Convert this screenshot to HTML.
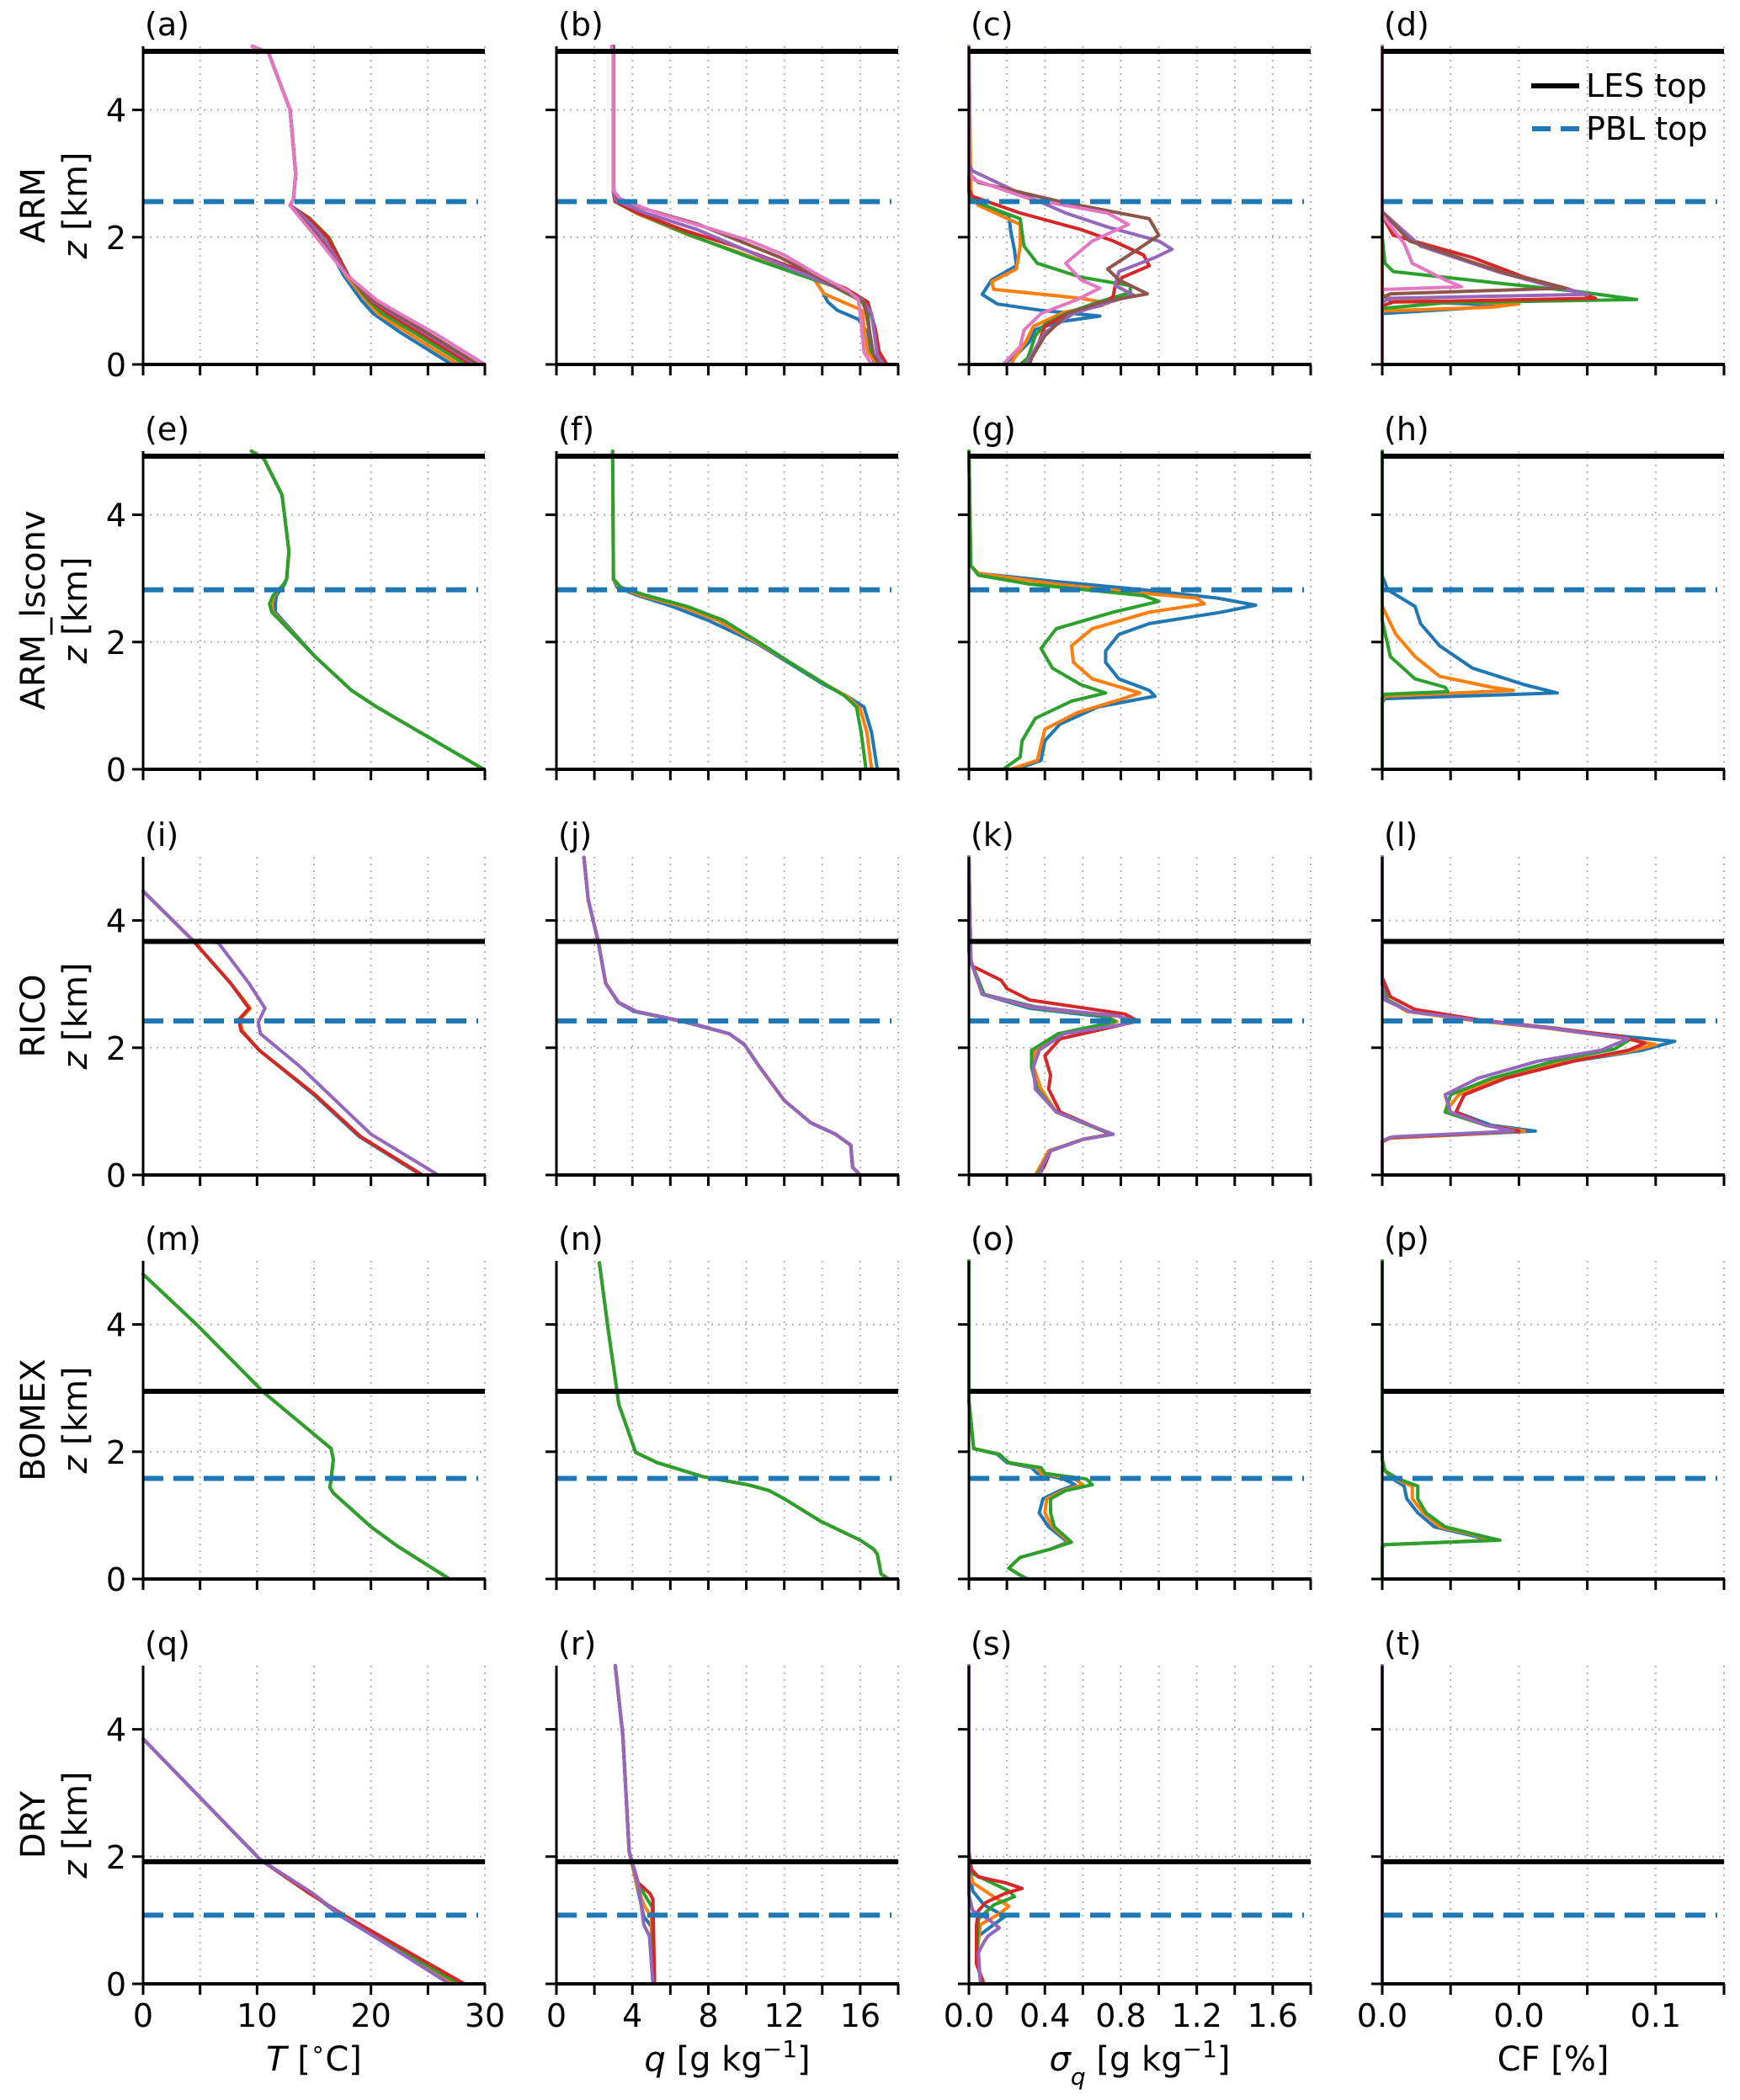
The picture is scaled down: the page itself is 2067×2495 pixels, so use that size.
<!DOCTYPE html>
<html>
<head>
<meta charset="utf-8">
<style>
  html,body{margin:0;padding:0;background:#fff;}
  svg{display:block;font-family:"DejaVu Sans","Liberation Sans",sans-serif;}
</style>
</head>
<body>
<svg id="chart" width="2067" height="2495" viewBox="0 0 2067 2495" xmlns="http://www.w3.org/2000/svg"></svg>
<script>
// ---------- DATA (value, z[km]) ----------
const rowNames = ['ARM','ARM_lsconv','RICO','BOMEX','DRY'];
const lesTop = [4.92, 4.92, 3.67, 2.95, 1.92];
const pblTop = [2.56, 2.82, 2.42, 1.58, 1.08];
const panelLetters = ['a','b','c','d','e','f','g','h','i','j','k','l','m','n','o','p','q','r','s','t'];
const xMax = [30, 18, 1.8, 0.125];
const xTickStep = [5, 2, 0.2, 0.025];
const xTickLabelVals = [[0,10,20,30],[0,4,8,12,16],[0,0.4,0.8,1.2,1.6],[0,0.05,0.1]];
const xTickLabelText = [['0','10','20','30'],['0','4','8','12','16'],['0.0','0.4','0.8','1.2','1.6'],['0.0','0.0','0.1']];
const yTicks = [0,2,4];

// (a) T ARM
const a_blue   = [[27.1,0],[22.6,0.5],[20.2,0.8],[19.2,1.0],[17.6,1.4],[15.8,2.0],[14.3,2.3],[12.9,2.5],[13.2,2.6],[13.4,3.0],[12.9,4.0],[11.0,4.9],[9.6,5.0]];
const a_orange = [[27.7,0],[23.2,0.5],[20.6,0.8],[19.6,1.0],[17.8,1.4],[16.0,2.0],[14.4,2.3],[12.9,2.5],[13.2,2.6],[13.4,3.0],[12.9,4.0],[11.0,4.9],[9.6,5.0]];
const a_green  = [[28.3,0],[23.8,0.5],[21.0,0.8],[19.8,1.0],[18.0,1.4],[16.3,2.0],[14.6,2.3],[12.9,2.5],[13.2,2.6],[13.4,3.0],[12.9,4.0],[11.0,4.9],[9.6,5.0]];
const a_red    = [[28.8,0],[24.3,0.5],[21.5,0.8],[20.0,1.0],[18.0,1.4],[16.2,2.0],[14.5,2.3],[12.9,2.5],[13.2,2.6],[13.4,3.0],[12.9,4.0],[11.0,4.9],[9.6,5.0]];
const a_purple = [[29.2,0],[24.7,0.5],[21.9,0.8],[20.2,1.0],[17.9,1.4],[15.8,2.0],[14.2,2.3],[12.9,2.5],[13.2,2.6],[13.4,3.0],[12.9,4.0],[11.0,4.9],[9.6,5.0]];
const a_brown  = [[29.4,0],[24.9,0.5],[22.1,0.8],[20.3,1.0],[17.9,1.4],[15.4,2.0],[13.9,2.3],[12.9,2.5],[13.2,2.6],[13.4,3.0],[12.9,4.0],[11.0,4.9],[9.6,5.0]];
const a_pink   = [[30.0,0],[25.5,0.5],[22.5,0.8],[20.6,1.0],[17.9,1.4],[15.2,2.0],[13.8,2.3],[12.9,2.5],[13.2,2.6],[13.4,3.0],[12.9,4.0],[11.0,4.9],[9.6,5.0]];
// (b) q ARM
const b_blue   = [[16.8,0],[16.5,0.19],[16.3,0.54],[15.9,0.71],[14.8,0.85],[14.3,0.98],[14.0,1.15],[13.6,1.33],[12.5,1.46],[10.0,1.72],[7.0,2.03],[4.2,2.38],[3.1,2.56],[3.0,2.7],[3.0,5.0]];
const b_orange = [[16.9,0],[16.4,0.19],[16.2,0.6],[16.1,0.85],[15.1,0.98],[14.1,1.11],[13.6,1.33],[12.5,1.46],[10.0,1.72],[7.0,2.03],[4.2,2.38],[3.1,2.56],[3.0,2.7],[3.0,5.0]];
const b_green  = [[17.1,0],[16.6,0.19],[16.4,0.8],[16.1,0.98],[15.6,1.07],[14.5,1.24],[12.7,1.42],[10.2,1.68],[7.07,2.03],[4.26,2.38],[3.08,2.56],[3.0,2.7],[3.0,5.0]];
const b_red    = [[17.4,0],[17.0,0.2],[16.8,0.55],[16.4,0.98],[15.2,1.2],[13.0,1.46],[9.4,1.86],[6.8,2.1],[4.3,2.38],[3.1,2.56],[3.0,2.7],[3.0,5.0]];
const b_purple = [[17.2,0],[16.9,0.15],[16.6,0.8],[16.1,1.02],[14.5,1.24],[10.9,1.68],[7.4,2.12],[4.5,2.4],[3.15,2.58],[3.0,2.7],[3.0,5.0]];
const b_brown  = [[17.0,0],[16.7,0.15],[16.5,0.5],[16.2,0.98],[14.6,1.24],[11.8,1.68],[7.4,2.21],[4.6,2.45],[3.2,2.62],[3.0,2.75],[3.0,5.0]];
const b_pink   = [[16.6,0],[16.2,0.19],[16.0,0.8],[15.9,1.02],[15.4,1.15],[13.7,1.42],[12.0,1.72],[10.2,1.94],[8.25,2.12],[5.3,2.38],[3.37,2.6],[3.0,2.73],[3.0,4.9],[2.9,5.0]];
// (c) sigma_q ARM
const c_blue   = [[0.18,0],[0.25,0.15],[0.32,0.36],[0.35,0.55],[0.48,0.67],[0.69,0.76],[0.38,0.85],[0.15,0.95],[0.07,1.1],[0.12,1.33],[0.25,1.55],[0.24,1.8],[0.22,2.1],[0.21,2.35],[0.06,2.5],[0.01,2.6],[0,5]];
const c_orange = [[0.22,0],[0.24,0.1],[0.3,0.36],[0.34,0.6],[0.5,0.82],[0.73,0.96],[0.59,1.04],[0.13,1.18],[0.12,1.3],[0.25,1.5],[0.27,1.86],[0.27,2.2],[0.05,2.5],[0.01,2.65],[0,5]];
const c_green  = [[0.27,0],[0.31,0.1],[0.35,0.45],[0.4,0.63],[0.51,0.8],[0.68,0.98],[0.85,1.13],[0.85,1.24],[0.59,1.37],[0.36,1.59],[0.29,1.86],[0.27,2.29],[0.03,2.56],[0,2.7],[0,5]];
const c_red    = [[0.3,0],[0.33,0.1],[0.37,0.36],[0.4,0.6],[0.52,0.8],[0.7,0.93],[0.76,1.07],[0.77,1.24],[0.81,1.37],[0.95,1.55],[0.92,1.72],[0.76,1.94],[0.59,2.12],[0.27,2.38],[0.02,2.64],[0,2.75],[0,5]];
const c_purple = [[0.3,0],[0.34,0.2],[0.4,0.5],[0.55,0.8],[0.74,0.98],[0.87,1.09],[0.77,1.24],[0.79,1.46],[0.98,1.68],[1.07,1.81],[1.0,1.94],[0.73,2.16],[0.51,2.38],[0.24,2.73],[0.02,3.04],[0,3.15],[0,5]];
const c_brown  = [[0.32,0],[0.33,0.1],[0.4,0.45],[0.52,0.8],[0.7,0.98],[0.94,1.11],[0.79,1.33],[0.73,1.5],[0.87,1.77],[1.0,2.03],[0.95,2.29],[0.48,2.56],[0.05,2.86],[0,3.0],[0,5]];
const c_pink   = [[0.18,0],[0.27,0.28],[0.29,0.54],[0.38,0.8],[0.57,1.02],[0.69,1.2],[0.59,1.33],[0.51,1.59],[0.65,1.94],[0.84,2.2],[0.73,2.38],[0.32,2.6],[0.03,2.9],[0,3.0],[0,5]];
// (d) CF ARM
const d_blue   = [[0,0],[0,0.8],[0.03,0.88],[0.045,0.93],[0.003,1.0],[0,1.1],[0,5]];
const d_orange = [[0,0],[0,0.84],[0.04,0.9],[0.05,0.95],[0.004,1.02],[0,1.1],[0,5]];
const d_green  = [[0,0],[0,0.88],[0.023,0.97],[0.093,1.02],[0.071,1.15],[0.042,1.28],[0.004,1.46],[0.001,1.59],[0,2.0],[0,5]];
const d_red    = [[0,0],[0,0.92],[0.004,0.98],[0.078,1.04],[0.067,1.2],[0.052,1.37],[0.033,1.68],[0.004,2.03],[0,2.34],[0,5]];
const d_purple = [[0,0],[0,0.98],[0.003,1.04],[0.075,1.1],[0.061,1.24],[0.042,1.46],[0.014,1.86],[0,2.4],[0,5]];
const d_brown  = [[0,0],[0,1.05],[0.003,1.11],[0.067,1.2],[0.046,1.42],[0.01,1.94],[0,2.4],[0,5]];
const d_pink   = [[0,0],[0,1.15],[0.001,1.18],[0.029,1.22],[0.023,1.33],[0.011,1.59],[0.008,1.9],[0,2.35],[0,5]];
// (e) T ARM_lsconv
const e_blue   = [[29.9,0],[20.5,0.98],[18.3,1.24],[15.1,1.77],[11.6,2.47],[11.6,2.6],[11.7,2.73],[12.4,2.9],[12.6,2.99],[12.8,3.43],[12.2,4.31],[10.6,4.88],[9.5,5.0]];
const e_orange = [[29.9,0],[20.5,0.98],[18.3,1.24],[15.1,1.77],[11.4,2.47],[11.3,2.6],[11.5,2.73],[12.3,2.9],[12.6,2.99],[12.8,3.43],[12.2,4.31],[10.6,4.88],[9.5,5.0]];
const e_green  = [[29.9,0],[20.5,0.98],[18.3,1.24],[15.1,1.77],[11.3,2.47],[11.1,2.6],[11.4,2.73],[12.3,2.9],[12.6,2.99],[12.8,3.43],[12.2,4.31],[10.6,4.88],[9.5,5.0]];
// (f) q ARM_lsconv
const f_blue   = [[16.9,0],[16.6,0.58],[16.2,0.98],[15.3,1.15],[14.1,1.33],[12.2,1.68],[10.5,1.99],[8.0,2.34],[6.1,2.56],[4.3,2.73],[3.2,2.86],[3.0,2.99],[2.96,5.0]];
const f_orange = [[16.6,0],[16.35,0.58],[16.0,0.95],[15.3,1.15],[14.2,1.33],[12.3,1.68],[10.6,1.99],[8.5,2.34],[6.6,2.56],[4.5,2.73],[3.3,2.86],[3.0,2.99],[2.96,5.0]];
const f_green  = [[16.3,0],[16.05,0.58],[15.8,0.98],[15.2,1.15],[14.2,1.33],[12.3,1.68],[10.7,1.99],[8.8,2.34],[6.9,2.56],[4.76,2.73],[3.4,2.86],[3.0,2.99],[2.96,5.0]];
// (g) sigma_q ARM_lsconv
const g_blue   = [[0.25,0],[0.38,0.14],[0.4,0.45],[0.48,0.71],[0.68,0.98],[0.98,1.15],[0.95,1.24],[0.79,1.42],[0.72,1.68],[0.72,1.86],[0.79,2.12],[0.95,2.29],[1.33,2.47],[1.51,2.58],[1.31,2.69],[0.92,2.82],[0.46,2.95],[0.05,3.08],[0.01,3.2],[0,5]];
const g_orange = [[0.22,0],[0.36,0.14],[0.4,0.63],[0.57,0.89],[0.81,1.11],[0.9,1.2],[0.65,1.42],[0.55,1.68],[0.54,1.94],[0.65,2.21],[0.95,2.47],[1.24,2.6],[1.2,2.69],[0.87,2.78],[0.46,2.91],[0.05,3.08],[0.01,3.2],[0,5]];
const g_green  = [[0.18,0],[0.27,0.19],[0.28,0.45],[0.35,0.8],[0.54,1.07],[0.72,1.2],[0.59,1.33],[0.44,1.59],[0.38,1.9],[0.46,2.21],[0.76,2.47],[1.0,2.64],[0.92,2.73],[0.32,2.91],[0.05,3.05],[0.01,3.2],[0,5]];
// (h) CF ARM_lsconv
const h_blue   = [[0,0],[0,1.05],[0.001,1.11],[0.064,1.2],[0.052,1.33],[0.033,1.59],[0.021,1.94],[0.014,2.29],[0.012,2.56],[0.002,2.82],[0,3.04],[0,5]];
const h_orange = [[0,0],[0,1.08],[0.001,1.15],[0.048,1.24],[0.04,1.29],[0.021,1.46],[0.012,1.77],[0.005,2.12],[0,2.56],[0,5]];
const h_green  = [[0,0],[0,1.12],[0.001,1.18],[0.024,1.22],[0.023,1.29],[0.012,1.42],[0.003,1.77],[0,2.34],[0,5]];
// (i) T RICO
const i_blue   = [[24.4,0],[19.0,0.6],[15.0,1.26],[10.2,1.96],[8.6,2.27],[8.5,2.44],[9.3,2.62],[7.7,3.01],[4.35,3.69],[0,4.46]];
const i_orange = [[24.5,0],[19.1,0.6],[15.1,1.26],[10.2,1.96],[8.7,2.27],[8.5,2.44],[9.4,2.62],[7.7,3.01],[4.35,3.69],[0,4.46]];
const i_green  = [[24.5,0],[19.1,0.6],[15.1,1.26],[10.2,1.96],[8.6,2.27],[8.4,2.44],[9.3,2.62],[7.7,3.01],[4.35,3.69],[0,4.46]];
const i_red    = [[24.5,0],[19.1,0.6],[15.1,1.26],[10.2,1.96],[8.6,2.27],[8.4,2.44],[9.3,2.62],[7.7,3.01],[4.35,3.69],[0,4.46]];
const i_purple = [[25.9,0],[20.0,0.64],[13.8,1.7],[10.3,2.22],[10.1,2.4],[10.7,2.62],[9.3,3.01],[6.6,3.65],[4.35,3.69],[0,4.46]];
// (j) q RICO
const j_blue   = [[16.0,0],[15.6,0.12],[15.5,0.47],[14.7,0.64],[13.4,0.82],[12.0,1.17],[10.7,1.7],[9.9,2.05],[9.1,2.22],[6.8,2.4],[4.1,2.57],[3.25,2.71],[2.6,3.01],[2.2,3.67],[1.67,4.33],[1.45,4.99]];
const j_orange = [[16.0,0],[15.6,0.12],[15.5,0.47],[14.7,0.64],[13.4,0.82],[12.0,1.17],[10.7,1.7],[9.9,2.05],[9.1,2.22],[6.9,2.4],[4.2,2.57],[3.28,2.71],[2.6,3.01],[2.2,3.67],[1.67,4.33],[1.45,4.99]];
const j_green  = [[16.0,0],[15.6,0.12],[15.5,0.47],[14.7,0.64],[13.4,0.82],[12.0,1.17],[10.7,1.7],[9.9,2.05],[9.1,2.22],[6.9,2.4],[4.2,2.57],[3.28,2.71],[2.6,3.01],[2.2,3.67],[1.67,4.33],[1.45,4.99]];
const j_red    = [[16.0,0],[15.6,0.12],[15.5,0.47],[14.7,0.64],[13.4,0.82],[12.0,1.17],[10.7,1.7],[9.9,2.05],[9.1,2.22],[6.9,2.4],[4.2,2.57],[3.28,2.71],[2.6,3.01],[2.2,3.67],[1.67,4.33],[1.45,4.99]];
const j_purple = [[16.0,0],[15.6,0.12],[15.5,0.47],[14.7,0.64],[13.4,0.82],[12.0,1.17],[10.7,1.7],[9.9,2.05],[9.1,2.22],[6.9,2.4],[4.2,2.57],[3.28,2.71],[2.6,3.01],[2.2,3.67],[1.67,4.33],[1.45,4.99]];
// (k) sigma_q RICO
const k_blue   = [[0.36,0],[0.39,0.16],[0.43,0.38],[0.6,0.56],[0.75,0.64],[0.46,0.99],[0.36,1.35],[0.33,1.7],[0.35,1.96],[0.48,2.22],[0.76,2.4],[0.7,2.49],[0.32,2.62],[0.07,2.84],[0.01,3.36],[0,5]];
const k_orange = [[0.35,0],[0.38,0.16],[0.42,0.38],[0.6,0.56],[0.75,0.64],[0.46,0.99],[0.38,1.35],[0.34,1.7],[0.35,1.96],[0.48,2.22],[0.78,2.41],[0.72,2.5],[0.33,2.64],[0.07,2.84],[0.01,3.36],[0,5]];
const k_green  = [[0.36,0],[0.39,0.16],[0.43,0.38],[0.6,0.56],[0.75,0.64],[0.46,0.99],[0.36,1.35],[0.33,1.7],[0.33,1.96],[0.47,2.22],[0.77,2.41],[0.72,2.5],[0.34,2.65],[0.08,2.84],[0.01,3.36],[0,5]];
const k_red    = [[0.37,0],[0.4,0.16],[0.43,0.38],[0.6,0.56],[0.75,0.64],[0.48,0.99],[0.42,1.35],[0.43,1.57],[0.4,1.87],[0.48,2.14],[0.73,2.31],[0.89,2.42],[0.82,2.53],[0.32,2.75],[0.2,2.93],[0.17,3.06],[0.02,3.28],[0,3.5],[0,5]];
const k_purple = [[0.37,0],[0.39,0.16],[0.43,0.38],[0.6,0.56],[0.76,0.64],[0.46,0.99],[0.35,1.35],[0.34,1.7],[0.37,1.96],[0.5,2.22],[0.8,2.36],[0.88,2.42],[0.78,2.5],[0.34,2.64],[0.07,2.84],[0.01,3.36],[0,5]];
// (l) CF RICO
const l_blue   = [[0,0],[0,0.52],[0.003,0.58],[0.056,0.69],[0.04,0.78],[0.027,0.99],[0.03,1.26],[0.045,1.52],[0.07,1.79],[0.095,1.96],[0.107,2.1],[0.09,2.17],[0.061,2.31],[0.033,2.44],[0.01,2.57],[0.002,2.75],[0,3.0],[0,5]];
const l_orange = [[0,0],[0,0.52],[0.003,0.58],[0.052,0.69],[0.038,0.78],[0.023,0.99],[0.028,1.26],[0.043,1.52],[0.068,1.79],[0.09,1.94],[0.1,2.05],[0.088,2.15],[0.06,2.31],[0.031,2.44],[0.009,2.57],[0.002,2.75],[0,3.0],[0,5]];
const l_green  = [[0,0],[0,0.53],[0.003,0.59],[0.05,0.69],[0.038,0.78],[0.023,0.99],[0.025,1.26],[0.04,1.52],[0.063,1.79],[0.085,1.98],[0.091,2.14],[0.063,2.31],[0.033,2.44],[0.01,2.57],[0.002,2.75],[0,3.0],[0,5]];
const l_red    = [[0,0],[0,0.53],[0.003,0.59],[0.05,0.69],[0.038,0.78],[0.027,0.99],[0.03,1.26],[0.045,1.52],[0.07,1.79],[0.09,1.96],[0.096,2.07],[0.088,2.17],[0.062,2.31],[0.035,2.44],[0.012,2.6],[0.003,2.8],[0,3.1],[0,5]];
const l_purple = [[0,0],[0,0.54],[0.004,0.6],[0.048,0.69],[0.038,0.78],[0.025,0.99],[0.023,1.26],[0.035,1.52],[0.057,1.79],[0.08,1.96],[0.09,2.14],[0.061,2.31],[0.033,2.44],[0.01,2.57],[0.001,2.75],[0,3.0],[0,5]];
// (m) T BOMEX
const m_blue   = [[26.9,0],[22.3,0.52],[20.0,0.82],[16.7,1.35],[16.4,1.44],[16.5,1.57],[16.7,1.88],[16.5,2.05],[10.6,2.93],[4.8,3.98],[0,4.79]];
const m_orange = [[26.9,0],[22.3,0.52],[20.0,0.82],[16.7,1.35],[16.4,1.44],[16.5,1.57],[16.7,1.88],[16.5,2.05],[10.6,2.93],[4.8,3.98],[0,4.79]];
const m_green  = [[26.9,0],[22.3,0.52],[20.0,0.82],[16.7,1.35],[16.4,1.44],[16.5,1.57],[16.7,1.88],[16.5,2.05],[10.6,2.93],[4.8,3.98],[0,4.79]];
// (n) q BOMEX
const n_blue   = [[17.5,0],[17.1,0.08],[16.9,0.39],[16.7,0.47],[16.0,0.61],[13.9,0.91],[12.0,1.26],[11.2,1.39],[10.1,1.48],[7.7,1.61],[5.3,1.83],[4.17,1.99],[3.28,2.75],[3.2,2.93],[2.74,3.89],[2.26,4.97]];
const n_orange = [[17.5,0],[17.1,0.08],[16.9,0.39],[16.7,0.47],[16.0,0.61],[13.9,0.91],[12.0,1.26],[11.2,1.39],[10.1,1.48],[7.7,1.61],[5.3,1.83],[4.17,1.99],[3.28,2.75],[3.2,2.93],[2.74,3.89],[2.26,4.97]];
const n_green  = [[17.5,0],[17.1,0.08],[16.9,0.39],[16.7,0.47],[16.0,0.61],[13.9,0.91],[12.0,1.26],[11.2,1.39],[10.1,1.48],[7.7,1.61],[5.3,1.83],[4.17,1.99],[3.28,2.75],[3.2,2.93],[2.74,3.89],[2.26,4.97]];
// (o) sigma_q BOMEX
const o_blue   = [[0.31,0],[0.27,0.06],[0.21,0.17],[0.27,0.34],[0.43,0.47],[0.52,0.58],[0.42,0.82],[0.37,1.04],[0.39,1.26],[0.48,1.39],[0.56,1.48],[0.5,1.57],[0.36,1.66],[0.33,1.75],[0.2,1.83],[0.15,1.96],[0.025,2.05],[0.01,2.5],[0,2.8],[0,5]];
const o_orange = [[0.31,0],[0.27,0.06],[0.21,0.17],[0.27,0.34],[0.43,0.47],[0.53,0.58],[0.44,0.82],[0.4,1.04],[0.41,1.26],[0.5,1.39],[0.6,1.48],[0.56,1.57],[0.38,1.66],[0.36,1.75],[0.21,1.83],[0.16,1.96],[0.025,2.05],[0.01,2.5],[0,2.8],[0,5]];
const o_green  = [[0.31,0],[0.27,0.06],[0.21,0.17],[0.27,0.34],[0.43,0.47],[0.54,0.58],[0.45,0.82],[0.43,1.04],[0.43,1.26],[0.51,1.39],[0.65,1.48],[0.62,1.57],[0.4,1.66],[0.38,1.75],[0.21,1.83],[0.16,1.96],[0.025,2.05],[0.01,2.5],[0,2.8],[0,5]];
// (p) CF BOMEX
const p_blue   = [[0,0],[0,0.5],[0.001,0.54],[0.04,0.61],[0.032,0.69],[0.019,0.82],[0.013,1.04],[0.009,1.26],[0.008,1.46],[0.004,1.57],[0.001,1.7],[0,1.88],[0,5]];
const p_orange = [[0,0],[0,0.5],[0.001,0.54],[0.041,0.61],[0.034,0.69],[0.021,0.82],[0.015,1.04],[0.011,1.26],[0.011,1.46],[0.005,1.57],[0.001,1.7],[0,1.88],[0,5]];
const p_green  = [[0,0],[0,0.5],[0.001,0.54],[0.043,0.61],[0.035,0.69],[0.023,0.82],[0.016,1.04],[0.013,1.26],[0.013,1.46],[0.006,1.57],[0.001,1.7],[0,1.88],[0,5]];
// (q) T DRY
const q_blue   = [[27.1,0],[17.4,1.06],[14.8,1.42],[10.3,1.95],[0,3.85]];
const q_orange = [[27.4,0],[17.5,1.06],[14.9,1.42],[10.3,1.95],[0,3.85]];
const q_green  = [[27.7,0],[17.6,1.06],[14.8,1.42],[10.3,1.95],[0,3.85]];
const q_red    = [[28.2,0],[17.8,1.06],[14.6,1.42],[10.3,1.95],[0,3.85]];
const q_purple = [[26.9,0],[17.5,1.06],[14.9,1.42],[10.3,1.95],[0,3.85]];
// (r) q DRY
const r_blue   = [[5.1,0],[5.0,0.9],[4.6,1.06],[4.35,1.4],[3.83,2.08],[3.5,3.9],[3.1,5.0]];
const r_orange = [[5.1,0],[5.0,1.05],[4.6,1.24],[4.3,1.5],[3.83,2.08],[3.5,3.9],[3.1,5.0]];
const r_green  = [[5.12,0],[5.05,1.2],[4.6,1.42],[4.3,1.59],[3.83,2.08],[3.5,3.9],[3.1,5.0]];
const r_red    = [[5.17,0],[5.08,1.33],[4.92,1.42],[4.3,1.59],[3.83,2.08],[3.5,3.9],[3.1,5.0]];
const r_purple = [[5.08,0],[4.9,0.75],[4.6,0.93],[4.3,1.59],[3.83,2.08],[3.5,3.9],[3.1,5.0]];
// (s) sigma_q DRY
const s_blue   = [[0.07,0],[0.04,0.4],[0.05,0.75],[0.13,0.93],[0.19,1.06],[0.08,1.24],[0.02,1.46],[0,1.8],[0,5]];
const s_orange = [[0.07,0],[0.04,0.4],[0.06,0.93],[0.16,1.1],[0.21,1.22],[0.13,1.37],[0.02,1.59],[0,1.9],[0,5]];
const s_green  = [[0.07,0],[0.04,0.4],[0.05,1.02],[0.13,1.24],[0.24,1.37],[0.21,1.46],[0.02,1.73],[0,2.0],[0,5]];
const s_red    = [[0.08,0],[0.04,0.31],[0.04,0.93],[0.05,1.15],[0.09,1.28],[0.19,1.42],[0.28,1.5],[0.19,1.59],[0.05,1.68],[0.01,1.81],[0,2.1],[0,5]];
const s_purple = [[0.07,0],[0.06,0.04],[0.05,0.49],[0.08,0.66],[0.1,0.75],[0.16,0.88],[0.1,1.02],[0.02,1.15],[0,1.4],[0,5]];
// (t) CF DRY
const t_blue   = [[0,0],[0,5]];
const t_orange = [[0,0],[0,5]];
const t_green  = [[0,0],[0,5]];
const t_red    = [[0,0],[0,5]];
const t_purple = [[0,0],[0,5]];

const colorMap = {blue:'#1f77b4',orange:'#ff7f0e',green:'#2ca02c',red:'#d62728',purple:'#9467bd',brown:'#8c564b',pink:'#e377c2'};
const panelSeries = [
  [['blue',a_blue],['orange',a_orange],['green',a_green],['red',a_red],['purple',a_purple],['brown',a_brown],['pink',a_pink]],
  [['blue',b_blue],['orange',b_orange],['green',b_green],['red',b_red],['purple',b_purple],['brown',b_brown],['pink',b_pink]],
  [['blue',c_blue],['orange',c_orange],['green',c_green],['red',c_red],['purple',c_purple],['brown',c_brown],['pink',c_pink]],
  [['blue',d_blue],['orange',d_orange],['green',d_green],['red',d_red],['purple',d_purple],['brown',d_brown],['pink',d_pink]],
  [['blue',e_blue],['orange',e_orange],['green',e_green]],
  [['blue',f_blue],['orange',f_orange],['green',f_green]],
  [['blue',g_blue],['orange',g_orange],['green',g_green]],
  [['blue',h_blue],['orange',h_orange],['green',h_green]],
  [['blue',i_blue],['orange',i_orange],['green',i_green],['red',i_red],['purple',i_purple]],
  [['blue',j_blue],['orange',j_orange],['green',j_green],['red',j_red],['purple',j_purple]],
  [['blue',k_blue],['orange',k_orange],['green',k_green],['red',k_red],['purple',k_purple]],
  [['blue',l_blue],['orange',l_orange],['green',l_green],['red',l_red],['purple',l_purple]],
  [['blue',m_blue],['orange',m_orange],['green',m_green]],
  [['blue',n_blue],['orange',n_orange],['green',n_green]],
  [['blue',o_blue],['orange',o_orange],['green',o_green]],
  [['blue',p_blue],['orange',p_orange],['green',p_green]],
  [['blue',q_blue],['orange',q_orange],['green',q_green],['red',q_red],['purple',q_purple]],
  [['blue',r_blue],['orange',r_orange],['green',r_green],['red',r_red],['purple',r_purple]],
  [['blue',s_blue],['orange',s_orange],['green',s_green],['red',s_red],['purple',s_purple]],
  [['blue',t_blue],['orange',t_orange],['green',t_green],['red',t_red],['purple',t_purple]]
];

// ---------- LAYOUT ----------
const NS = 'http://www.w3.org/2000/svg';
const svg = document.getElementById('chart');
const colLeft = [170, 661, 1151, 1642];
const panelW = 406;
const rowBottom = [433, 914, 1396, 1876, 2357];
const kmPx = 75.6;
const FS = 38;

function el(tag, attrs, parent){
  const e = document.createElementNS(NS, tag);
  for (const k in attrs) e.setAttribute(k, attrs[k]);
  (parent||svg).appendChild(e);
  return e;
}
function xScale(col, v){ return colLeft[col] + v / xMax[col] * panelW; }
function yScale(row, z){ return rowBottom[row] - z * kmPx; }

for (let row = 0; row < 5; row++) {
  for (let col = 0; col < 4; col++) {
    const idx = row*4 + col;
    const g = el('g', {});
    
    
    const x0 = colLeft[col], x1 = colLeft[col] + panelW;
    const yb = rowBottom[row], yt = yScale(row, 5);

    // grid
    const nTicks = Math.round(xMax[col] / xTickStep[col]);
    for (let i = 1; i <= nTicks; i++) {
      const gx = xScale(col, i * xTickStep[col]);
      const gl = el('line', {x1:gx, x2:gx, y1:yt, y2:yb, stroke:'#b0b0b0', 'stroke-width':2, 'stroke-dasharray':'2,6'}, g);
      
      
    }
    [2,4].forEach(z => {
      const gl = el('line', {x1:x0, x2:x1, y1:yScale(row,z), y2:yScale(row,z), stroke:'#b0b0b0', 'stroke-width':2, 'stroke-dasharray':'2,6'}, g);
      
      
    });

    // series
    panelSeries[idx].forEach(([cname, pts]) => {
      const d = pts.map((p,i) => (i ? 'L' : 'M') + xScale(col, p[0]).toFixed(1) + ',' + yScale(row, p[1]).toFixed(1)).join(' ');
      const path = el('path', {d:d, fill:'none', stroke:colorMap[cname], 'stroke-width':4, 'stroke-linejoin':'round', 'stroke-linecap':'round'}, g);
      
      
    });

    // LES / PBL lines
    const les = el('line', {x1:x0, x2:x1, y1:yScale(row, lesTop[row]), y2:yScale(row, lesTop[row]), stroke:'#000', 'stroke-width':6}, g);
    
    
    const pbl = el('line', {x1:x0, x2:x1 - 8, y1:yScale(row, pblTop[row]), y2:yScale(row, pblTop[row]), stroke:'#1f77b4', 'stroke-width':6, 'stroke-dasharray':'24,12'}, g);
    
    

    // spines
    const ls = el('line', {x1:x0, x2:x0, y1:yt, y2:yb + 1, stroke:'#000', 'stroke-width':3}, g);
    
    
    const bs = el('line', {x1:x0 - 1, x2:x1 + 1, y1:yb, y2:yb, stroke:'#000', 'stroke-width':4}, g);
    
    

    // x ticks
    for (let i = 0; i <= nTicks; i++) {
      const tx = xScale(col, i * xTickStep[col]);
      const t = el('line', {x1:tx, x2:tx, y1:yb, y2:yb + 13, stroke:'#000', 'stroke-width':3}, g);
      
      
    }
    // y ticks
    yTicks.forEach(z => {
      const t = el('line', {x1:x0 - 13, x2:x0, y1:yScale(row,z), y2:yScale(row,z), stroke:'#000', 'stroke-width':3}, g);
      
      
      if (col === 0) {
        const tl = el('text', {x:x0 - 20, y:yScale(row,z) + 14, 'font-size':FS, 'text-anchor':'end', fill:'#000'}, g);
        tl.textContent = String(z);
        
        
      }
    });
    // x tick labels on last row
    if (row === 4) {
      xTickLabelVals[col].forEach((v, i) => {
        const tl = el('text', {x:xScale(col, v), y:yb + 51, 'font-size':FS, 'text-anchor':'middle', fill:'#000'}, g);
        tl.textContent = xTickLabelText[col][i];
        
        
      });
    }
    // panel letter
    const pl = el('text', {x:x0 + 2, y:yt - 13, 'font-size':FS, fill:'#000'}, g);
    pl.textContent = '(' + panelLetters[idx] + ')';
    
    
  }
  // row y-label
  const cy = (rowBottom[row] + yScale(row,5)) / 2;
  const yl1 = el('text', {x:0, y:0, 'font-size':40, 'text-anchor':'middle', 'dominant-baseline':'central', transform:'translate(40,' + cy + ') rotate(-90)', fill:'#000'});
  yl1.textContent = rowNames[row];
  
  
  const yl2 = el('text', {x:0, y:0, 'font-size':40, 'text-anchor':'middle', 'dominant-baseline':'central', transform:'translate(90,' + cy + ') rotate(-90)', fill:'#000'});
  yl2.innerHTML = '<tspan font-style="italic">z</tspan> [km]';
  
  
}

// x-axis titles
const xt0 = el('text', {x:colLeft[0] + panelW/2, y:2460, 'font-size':40, 'text-anchor':'middle', fill:'#000'});
xt0.innerHTML = '<tspan font-style="italic">T</tspan> [<tspan baseline-shift="super" font-size="28">∘</tspan>C]';


const xt1 = el('text', {x:colLeft[1] + panelW/2, y:2460, 'font-size':40, 'text-anchor':'middle', fill:'#000'});
xt1.innerHTML = '<tspan font-style="italic">q</tspan> [g kg<tspan baseline-shift="super" font-size="28">−1</tspan>]';


const xt2 = el('text', {x:colLeft[2] + panelW/2, y:2460, 'font-size':40, 'text-anchor':'middle', fill:'#000'});
xt2.innerHTML = '<tspan font-style="italic">σ</tspan><tspan baseline-shift="sub" font-size="28" font-style="italic">q</tspan> [g kg<tspan baseline-shift="super" font-size="28">−1</tspan>]';


const xt3 = el('text', {x:colLeft[3] + panelW/2, y:2460, 'font-size':40, 'text-anchor':'middle', fill:'#000'});
xt3.textContent = 'CF [%]';



// legend in panel (d)
const lg = el('g', {});


const lg1 = el('line', {x1:1819, x2:1876, y1:102, y2:102, stroke:'#000', 'stroke-width':6}, lg);


const lt1 = el('text', {x:1884, y:115, 'font-size':FS, fill:'#000'}, lg);
lt1.textContent = 'LES top';


const lg2 = el('line', {x1:1820, x2:1876, y1:153, y2:153, stroke:'#1f77b4', 'stroke-width':6, 'stroke-dasharray':'22,12'}, lg);


const lt2 = el('text', {x:1884, y:166, 'font-size':FS, fill:'#000'}, lg);
lt2.textContent = 'PBL top';


</script>
</body>
</html>
